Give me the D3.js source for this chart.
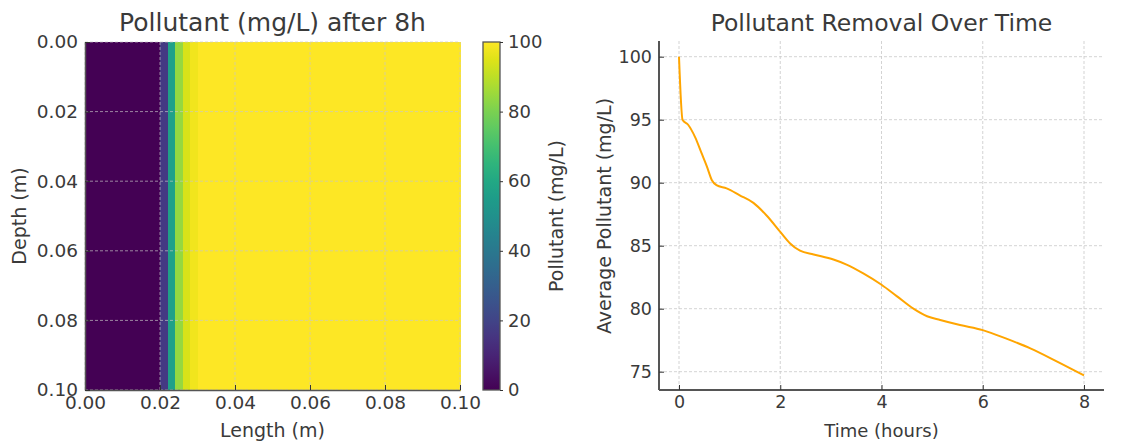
<!DOCTYPE html>
<html>
<head>
<meta charset="utf-8">
<script src="https://cdn.jsdelivr.net/npm/d3@7"></script>
<style>
  html, body { margin: 0; padding: 0; background: #fff; }
  svg { display: block; }
  text { font-family: "DejaVu Sans", sans-serif; }
</style>
</head>
<body>
<svg id="chart" width="1132" height="443"></svg>
<script>
// ---------- DATA ----------
// Heatmap: concentration (mg/L) per length column (0.002 m wide), uniform over depth
const lengthCols = d3.range(50).map(i => +(i * 0.002).toFixed(3));
const concByLength = [
  0, 0, 0, 0, 0, 0, 0, 0, 0, 0,
  17, 57, 84, 94, 98, 100, 100, 100, 100, 100,
  100, 100, 100, 100, 100, 100, 100, 100, 100, 100,
  100, 100, 100, 100, 100, 100, 100, 100, 100, 100,
  100, 100, 100, 100, 100, 100, 100, 100, 100, 100
];
const depthRows = d3.range(50).map(i => +(i * 0.002).toFixed(3));
const heatTicks = [0, 0.02, 0.04, 0.06, 0.08, 0.10];
const cbarTicks = [0, 20, 40, 60, 80, 100];

// Line: average pollutant over time
const timeHours = [0, 0.07, 0.18, 0.32, 0.45, 0.55, 0.65, 0.74, 0.94, 1.2, 1.47, 1.73, 2.0, 2.19, 2.39, 2.66, 3.05, 3.31, 3.64, 4.0, 4.3, 4.63, 4.9, 5.16, 5.55, 6.0, 6.48, 6.94, 7.47, 8.0];
const avgPollutant = [100, 95.0, 94.6, 93.6, 92.3, 91.3, 90.2, 89.8, 89.55, 89.0, 88.4, 87.4, 86.1, 85.2, 84.6, 84.3, 83.9, 83.5, 82.8, 81.9, 81.0, 80.0, 79.4, 79.1, 78.7, 78.3, 77.6, 76.85, 75.8, 74.7];
const timeTicks = [0, 2, 4, 6, 8];
const pollTicks = [75, 80, 85, 90, 95, 100];

// ---------- DRAW ----------
const svg = d3.select("#chart");
const txt = "#3a3a3a", spine = "#555", gridC = "#c8c8c8";

function styleTicks(a, size) {
  a.selectAll(".tick line").attr("stroke", "#333").attr("stroke-width", 1);
  a.selectAll(".tick text").attr("fill", txt).style("font-size", size + "px").style("font-family", "DejaVu Sans");
}
function label(x, y, size, str, rot) {
  const t = svg.append("text").attr("text-anchor", "middle")
    .style("font-size", size + "px").attr("fill", txt).text(str);
  if (rot) t.attr("transform", `translate(${x},${y}) rotate(-90)`);
  else t.attr("x", x).attr("y", y);
  return t;
}

// ===== Heatmap =====
const hx = d3.scaleLinear().domain([0, 0.1]).range([85, 460]);
const hy = d3.scaleLinear().domain([0, 0.1]).range([42, 390]);
const color = d3.scaleSequential(d3.interpolateViridis).domain([0, 100]);
const dx = 0.002, dy = 0.002;

const cells = [];
depthRows.forEach(d => lengthCols.forEach((l, i) => cells.push({ l, d, v: concByLength[i] })));
svg.append("g").selectAll("rect").data(cells).join("rect")
  .attr("x", c => hx(c.l))
  .attr("y", c => hy(c.d))
  .attr("width", hx(dx) - hx(0) + 0.5)
  .attr("height", hy(dy) - hy(0) + 0.5)
  .attr("fill", c => color(c.v))
  .attr("shape-rendering", "crispEdges");

// grid
const hg = svg.append("g").attr("stroke", gridC).attr("stroke-width", 0.8).attr("stroke-dasharray", "3,2").attr("opacity", 0.85);
heatTicks.forEach(t => {
  hg.append("line").attr("x1", hx(t)).attr("x2", hx(t)).attr("y1", 42).attr("y2", 390);
  hg.append("line").attr("x1", 85).attr("x2", 460).attr("y1", hy(t)).attr("y2", hy(t));
});

// axes
const hxAxis = svg.append("g").attr("transform", "translate(0,390)")
  .call(d3.axisBottom(hx).tickValues(heatTicks).tickFormat(d3.format(".2f")).tickSizeInner(-5).tickSizeOuter(0).tickPadding(6));
const hyAxis = svg.append("g").attr("transform", "translate(85,0)")
  .call(d3.axisLeft(hy).tickValues(heatTicks).tickFormat(d3.format(".2f")).tickSizeInner(-5).tickSizeOuter(0).tickPadding(7));
[hxAxis, hyAxis].forEach(a => {
  a.select(".domain").attr("stroke", spine).attr("stroke-width", 1.5);
  styleTicks(a, 18.5);
});
hxAxis.selectAll(".tick text").attr("dy", "0.71em");

label(272.5, 31, 25, "Pollutant (mg/L) after 8h");
label(272.5, 437, 19, "Length (m)");
label(26, 216, 19, "Depth (m)", true);

// ===== Colorbar =====
const cb = d3.scaleLinear().domain([0, 100]).range([390, 42]);
const defs = svg.append("defs");
const grad = defs.append("linearGradient").attr("id", "vir").attr("x1", 0).attr("y1", 1).attr("x2", 0).attr("y2", 0);
d3.range(0, 1.0001, 0.05).forEach(t => grad.append("stop").attr("offset", t).attr("stop-color", d3.interpolateViridis(t)));
svg.append("rect").attr("x", 483).attr("y", 42).attr("width", 17).attr("height", 348)
  .attr("fill", "url(#vir)").attr("stroke", spine).attr("stroke-width", 1.3);
const cbAxis = svg.append("g").attr("transform", "translate(500,0)")
  .call(d3.axisRight(cb).tickValues(cbarTicks).tickSizeInner(3).tickSizeOuter(0).tickPadding(5));
cbAxis.select(".domain").remove();
styleTicks(cbAxis, 18);
label(563, 216, 19, "Pollutant (mg/L)", true);

// ===== Line chart =====
const lx = d3.scaleLinear().domain([0, 8]).range([679, 1084]);
const ly = d3.scaleLinear().domain([75, 100]).range([371.7, 56.7]);
const L = 659, R = 1104, T = 41, B = 390;

const lg = svg.append("g").attr("stroke", gridC).attr("stroke-width", 0.8).attr("stroke-dasharray", "3,2");
timeTicks.forEach(t => lg.append("line").attr("x1", lx(t)).attr("x2", lx(t)).attr("y1", T).attr("y2", B));
pollTicks.forEach(t => lg.append("line").attr("x1", L).attr("x2", R).attr("y1", ly(t)).attr("y2", ly(t)));

const pts = timeHours.map((t, i) => [t, avgPollutant[i]]);
svg.append("path").datum(pts)
  .attr("fill", "none").attr("stroke", "#FFA500").attr("stroke-width", 2)
  .attr("d", d3.line().x(d => lx(d[0])).y(d => ly(d[1])).curve(d3.curveMonotoneX));

const lxAxis = svg.append("g").attr("transform", `translate(0,${B})`)
  .call(d3.axisBottom(lx).tickValues(timeTicks).tickFormat(d3.format("d")).tickSizeInner(-5).tickSizeOuter(0).tickPadding(6));
const lyAxis = svg.append("g").attr("transform", `translate(${L},0)`)
  .call(d3.axisLeft(ly).tickValues(pollTicks).tickFormat(d3.format("d")).tickSizeInner(-5).tickSizeOuter(0).tickPadding(7));
lxAxis.select(".domain").attr("d", `M${L},0H${R}`);
lyAxis.select(".domain").attr("d", `M0,${T}V${B}`);
[lxAxis, lyAxis].forEach(a => {
  a.select(".domain").attr("stroke", spine).attr("stroke-width", 2);
  styleTicks(a, 17.5);
});
lxAxis.selectAll(".tick text").attr("dy", "0.71em");

label(881.5, 31, 23.5, "Pollutant Removal Over Time");
label(881.5, 437, 18, "Time (hours)");
label(611, 216, 19, "Average Pollutant (mg/L)", true);
</script>
</body>
</html>
